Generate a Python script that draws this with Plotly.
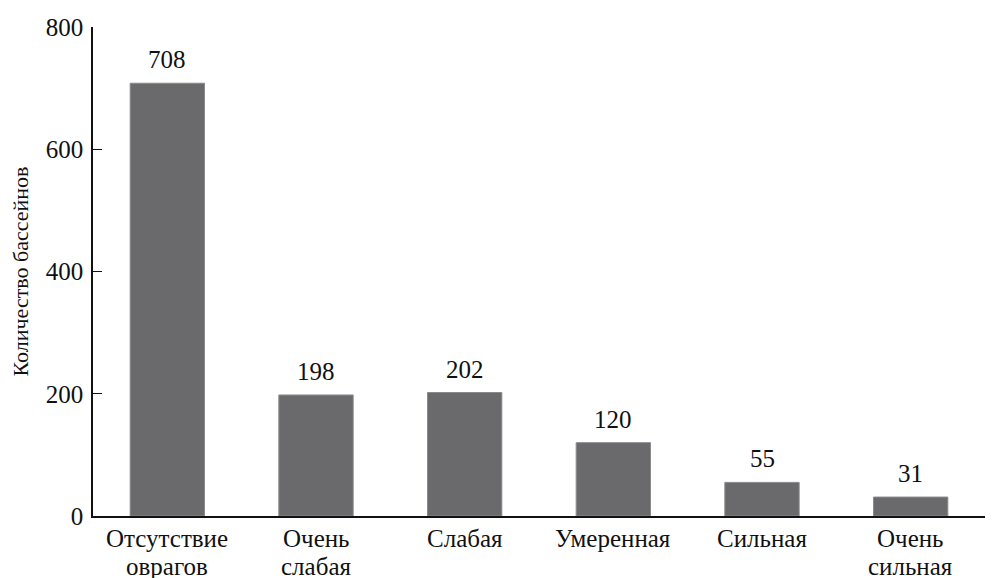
import plotly.graph_objects as go

categories = ["Отсутствие<br>оврагов", "Очень<br>слабая", "Слабая", "Умеренная", "Сильная", "Очень<br>сильная"]
values = [708, 198, 202, 120, 55, 31]
y_ticks = [0, 200, 400, 600, 800]
y_title = "Количество бассейнов"

FONT = "'Liberation Serif', 'Times New Roman', 'DejaVu Serif', serif"

fig = go.Figure(go.Bar(
    x=categories, y=values, width=0.5,
    marker=dict(color="#6a6a6d", line=dict(color="#8a8a8d", width=1)),
    showlegend=False,
))

for c, v in zip(categories, values):
    fig.add_annotation(x=c, y=v, text=str(v), showarrow=False, yanchor="bottom",
                       yshift=8, font=dict(family=FONT, size=25, color="#111"))

# category labels, one annotation per line (tighter line spacing as in the reference)
for c in categories:
    for i, line in enumerate(c.split("<br>")):
        fig.add_annotation(x=c, y=0, yref="paper", text=line, showarrow=False,
                           yanchor="middle", yshift=-22 - 28 * i,
                           font=dict(family=FONT, size=25, color="#111"))

fig.update_layout(
    width=987, height=570,
    margin=dict(l=85, r=10, t=19, b=62, autoexpand=False),
    paper_bgcolor="white", plot_bgcolor="white",
    font=dict(family=FONT, size=25, color="#111"),
    bargap=0.5,
)
fig.update_yaxes(range=[0, 800], tickvals=y_ticks, showgrid=False, zeroline=False,
                 showline=True, linecolor="#111", linewidth=1.5, automargin=False,
                 ticks="inside", ticklen=9, tickcolor="#111", ticklabelstandoff=3,
                 title=dict(text=y_title, font=dict(size=22), standoff=14))
fig.update_xaxes(showgrid=False, showline=True, linecolor="#111", linewidth=1.5,
                 automargin=False, ticks="", showticklabels=False)

fig.write_html("out.html")
